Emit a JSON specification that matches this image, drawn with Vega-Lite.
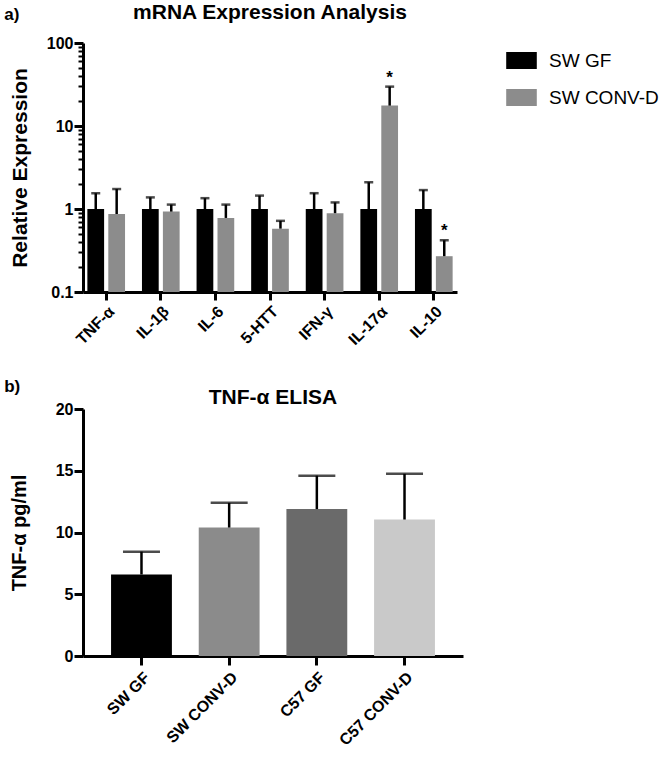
{
  "$schema": "https://vega.github.io/schema/vega-lite/v6.json",
  "background": "white",
  "padding": {"left": 4, "top": 2, "right": 0, "bottom": 0},
  "datasets": {
    "mrna": [
      {"gene": "TNF-α", "group": "SW GF", "value": 1, "upper": 1.55, "sig": ""},
      {"gene": "TNF-α", "group": "SW CONV-D", "value": 0.87, "upper": 1.74, "sig": ""},
      {"gene": "IL-1β", "group": "SW GF", "value": 1, "upper": 1.38, "sig": ""},
      {"gene": "IL-1β", "group": "SW CONV-D", "value": 0.93, "upper": 1.13, "sig": ""},
      {"gene": "IL-6", "group": "SW GF", "value": 1, "upper": 1.35, "sig": ""},
      {"gene": "IL-6", "group": "SW CONV-D", "value": 0.78, "upper": 1.13, "sig": ""},
      {"gene": "5-HTT", "group": "SW GF", "value": 1, "upper": 1.45, "sig": ""},
      {"gene": "5-HTT", "group": "SW CONV-D", "value": 0.58, "upper": 0.72, "sig": ""},
      {"gene": "IFN-γ", "group": "SW GF", "value": 1, "upper": 1.55, "sig": ""},
      {"gene": "IFN-γ", "group": "SW CONV-D", "value": 0.89, "upper": 1.2, "sig": ""},
      {"gene": "IL-17α", "group": "SW GF", "value": 1, "upper": 2.1, "sig": ""},
      {"gene": "IL-17α", "group": "SW CONV-D", "value": 17.6, "upper": 29.8, "sig": "*"},
      {"gene": "IL-10", "group": "SW GF", "value": 1, "upper": 1.69, "sig": ""},
      {"gene": "IL-10", "group": "SW CONV-D", "value": 0.27, "upper": 0.42, "sig": "*"}
    ],
    "elisa": [
      {"group": "SW GF", "value": 6.6, "upper": 8.45},
      {"group": "SW CONV-D", "value": 10.4, "upper": 12.4},
      {"group": "C57 GF", "value": 11.9, "upper": 14.6},
      {"group": "C57 CONV-D", "value": 11.05, "upper": 14.75}
    ]
  },
  "resolve": {"scale": {"color": "independent"}, "legend": {"color": "independent"}},
  "vconcat": [
    {
      "title": {"text": "a)", "anchor": "start", "frame": "bounds", "fontSize": 17, "fontWeight": "bold", "font": "Liberation Sans", "color": "black", "offset": -22, "dx": -5},
      "vconcat": [
        {
          "width": 374,
          "height": 249,
          "title": {"text": "mRNA Expression Analysis", "anchor": "middle", "frame": "group", "fontSize": 21, "fontWeight": "bold", "font": "Liberation Sans", "color": "black", "offset": 12},
          "data": {"name": "mrna"},
          "encoding": {
            "x": {
              "field": "gene", "type": "nominal", "sort": null,
              "scale": {"paddingInner": 0.31, "paddingOuter": 0.08},
              "axis": {"title": null, "labelAngle": -45, "labelFontSize": 16, "tickSize": 8, "labelPadding": 3}
            },
            "xOffset": {"field": "group", "type": "nominal", "sort": ["SW GF", "SW CONV-D"], "scale": {"paddingInner": 0.2}}
          },
          "layer": [
            {
              "mark": {"type": "bar"},
              "encoding": {
                "y": {
                  "field": "value", "type": "quantitative", "stack": null,
                  "scale": {"type": "log", "domain": [0.1, 100], "nice": false},
                  "axis": {
                    "title": "Relative Expression",
                    "titleFontSize": 21,
                    "titlePadding": 16,
                    "values": [0.1, 0.2, 0.3, 0.4, 0.5, 0.6, 0.7, 0.8, 0.9, 1, 2, 3, 4, 5, 6, 7, 8, 9, 10, 20, 30, 40, 50, 60, 70, 80, 90, 100],
                    "labelExpr": "datum.value == 0.1 ? '0.1' : datum.value == 1 ? '1' : datum.value == 10 ? '10' : datum.value == 100 ? '100' : ''",
                    "labelOverlap": false,
                    "labelPadding": 1,
                    "tickSize": {"condition": {"test": "datum.value == 0.1 || datum.value == 1 || datum.value == 10 || datum.value == 100", "value": 9}, "value": 5},
                    "tickWidth": {"condition": {"test": "datum.value == 0.1 || datum.value == 1 || datum.value == 10 || datum.value == 100", "value": 3}, "value": 2}
                  }
                },
                "y2": {"datum": 0.1},
                "color": {
                  "field": "group", "type": "nominal",
                  "scale": {"domain": ["SW GF", "SW CONV-D"], "range": ["#000000", "#8c8c8c"]},
                  "legend": {
                    "title": null, "orient": "right", "offset": 47, "padding": 8,
                    "labelFont": "Liberation Sans", "labelFontSize": 19, "labelColor": "black", "labelFontWeight": "normal",
                    "symbolType": "M-1.8,-1H1.8V1H-1.8Z", "symbolSize": 289, "symbolStrokeWidth": 0,
                    "rowPadding": 17, "labelOffset": 18
                  }
                }
              }
            },
            {
              "mark": {"type": "rule", "color": "black", "strokeWidth": 2.5},
              "encoding": {
                "y": {"field": "value", "type": "quantitative"},
                "y2": {"field": "upper"}
              }
            },
            {
              "mark": {"type": "tick", "color": "black", "thickness": 2.5, "size": 9},
              "encoding": {
                "y": {"field": "upper", "type": "quantitative"}
              }
            },
            {
              "transform": [{"filter": "datum.sig != ''"}],
              "mark": {"type": "text", "fontSize": 17, "fontWeight": "bold", "color": "black", "baseline": "alphabetic", "dy": -4},
              "encoding": {
                "y": {"field": "upper", "type": "quantitative"},
                "text": {"field": "sig"}
              }
            }
          ]
        }
      ]
    },
    {
      "title": {"text": "b)", "anchor": "start", "frame": "bounds", "fontSize": 17, "fontWeight": "bold", "font": "Liberation Sans", "color": "black", "offset": -9, "dx": -5},
      "vconcat": [
        {
          "width": 380,
          "height": 247,
          "title": {"text": "TNF-α ELISA", "anchor": "middle", "frame": "group", "fontSize": 21, "fontWeight": "bold", "font": "Liberation Sans", "color": "black", "offset": -7},
          "data": {"name": "elisa"},
          "encoding": {
            "x": {
              "field": "group", "type": "nominal", "sort": null,
              "scale": {"paddingInner": 0.306, "paddingOuter": 0.32},
              "axis": {"title": null, "labelAngle": -45, "labelFontSize": 16, "tickSize": 9, "labelPadding": 4}
            }
          },
          "layer": [
            {
              "mark": {"type": "bar"},
              "encoding": {
                "y": {
                  "field": "value", "type": "quantitative", "stack": null,
                  "scale": {"domain": [0, 20], "nice": false},
                  "axis": {"title": "TNF-α pg/ml", "titleFontSize": 20, "values": [0, 5, 10, 15, 20], "tickSize": 9, "labelPadding": 1, "titlePadding": 26}
                },
                "color": {
                  "field": "group", "type": "nominal",
                  "scale": {"domain": ["SW GF", "SW CONV-D", "C57 GF", "C57 CONV-D"], "range": ["#000000", "#8b8b8b", "#6a6a6a", "#c9c9c9"]},
                  "legend": null
                }
              }
            },
            {
              "mark": {"type": "rule", "color": "black", "strokeWidth": 2.5},
              "encoding": {
                "y": {"field": "value", "type": "quantitative"},
                "y2": {"field": "upper"}
              }
            },
            {
              "mark": {"type": "tick", "color": "black", "thickness": 2.5, "size": 37},
              "encoding": {
                "y": {"field": "upper", "type": "quantitative"}
              }
            }
          ]
        }
      ]
    }
  ],
  "spacing": 30,
  "config": {
    "view": {"stroke": null},
    "font": "Liberation Sans",
    "axis": {
      "domainColor": "black", "domainWidth": 3,
      "tickColor": "black", "tickWidth": 3,
      "labelColor": "black", "labelFont": "Liberation Sans", "labelFontWeight": "bold", "labelFontSize": 16,
      "titleColor": "black", "titleFont": "Liberation Sans", "titleFontWeight": "bold", "titleFontSize": 17,
      "grid": false
    }
  }
}
